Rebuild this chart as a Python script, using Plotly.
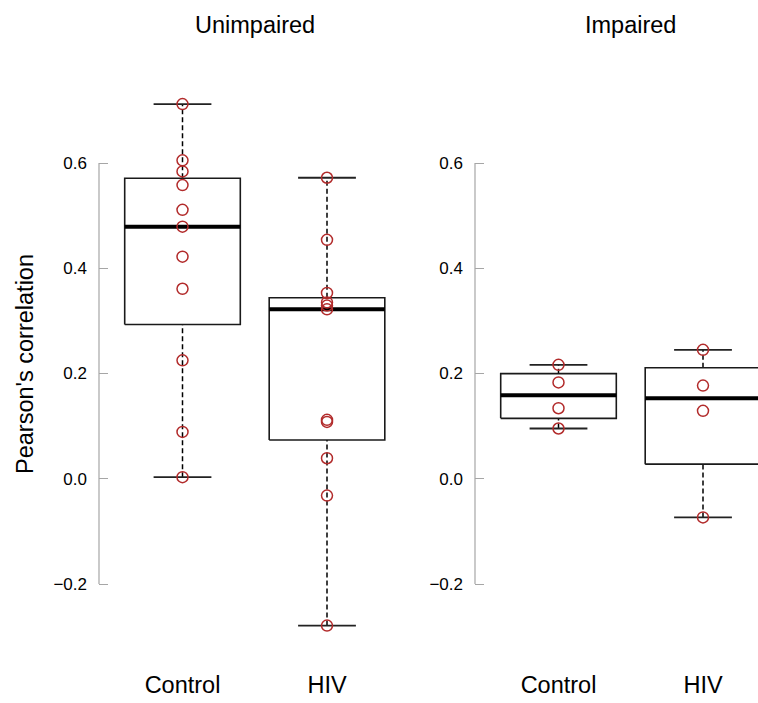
import math
import numpy as np
import plotly.graph_objects as go
from plotly.subplots import make_subplots

# ---- data ----
panel_titles = ["Unimpaired", "Impaired"]
group_labels = ["Control", "HIV"]
unimpaired_control = [0.712, 0.605, 0.584, 0.558, 0.511, 0.479, 0.422, 0.361, 0.225, 0.089, 0.003]
unimpaired_hiv = [0.572, 0.454, 0.353, 0.335, 0.329, 0.322, 0.112, 0.108, 0.039, -0.032, -0.279]
impaired_control = [0.2165, 0.183, 0.134, 0.0955]
impaired_hiv = [0.245, 0.177, 0.129, -0.0735]
y_ticks = [-0.2, 0.0, 0.2, 0.4, 0.6]
y_title = "Pearson's correlation"

W, H = 758, 703
FONT = "Liberation Sans, Arial, Helvetica, sans-serif"
PT_COLOR = "#b22b2b"
AX_COLOR = "#a6a6a6"


def fivenum(vals):
    x = sorted(vals)
    n = len(x)
    n4 = math.floor((n + 3) / 2) / 2
    d = [1, n4, (n + 1) / 2, n + 1 - n4, n]
    return [0.5 * (x[math.floor(k) - 1] + x[math.ceil(k) - 1]) for k in d]


fig = make_subplots(rows=1, cols=2)

panels = [
    (1, [unimpaired_control, unimpaired_hiv]),
    (2, [impaired_control, impaired_hiv]),
]

for col, groups in panels:
    for i, vals in enumerate(groups):
        p = i + 1
        mn, q1, med, q3, mx = fivenum(vals)
        iqr = q3 - q1
        arr = np.array(vals)
        lo = arr[arr >= q1 - 1.5 * iqr].min()
        hi = arr[arr <= q3 + 1.5 * iqr].max()
        hw, cw = 0.4, 0.2
        line_kw = dict(mode="lines", hoverinfo="skip", showlegend=False)
        # whiskers (dashed)
        fig.add_trace(go.Scatter(x=[p, p], y=[q3, hi], line=dict(color="black", width=1.5, dash="5px,3px"), **line_kw), row=1, col=col)
        fig.add_trace(go.Scatter(x=[p, p], y=[lo, q1], line=dict(color="black", width=1.5, dash="5px,3px"), **line_kw), row=1, col=col)
        # caps
        fig.add_trace(go.Scatter(x=[p - cw, p + cw], y=[hi, hi], line=dict(color="#222222", width=1.8), **line_kw), row=1, col=col)
        fig.add_trace(go.Scatter(x=[p - cw, p + cw], y=[lo, lo], line=dict(color="#222222", width=1.8), **line_kw), row=1, col=col)
        # box
        fig.add_trace(go.Scatter(x=[p - hw, p + hw, p + hw, p - hw, p - hw], y=[q1, q1, q3, q3, q1],
                                 fill="toself", fillcolor="white",
                                 line=dict(color="#1a1a1a", width=1.6), **line_kw), row=1, col=col)
        # median
        fig.add_trace(go.Scatter(x=[p - hw, p + hw], y=[med, med], line=dict(color="black", width=4), **line_kw), row=1, col=col)
        # points
        fig.add_trace(go.Scatter(x=[p] * len(vals), y=vals, mode="markers", hoverinfo="skip", showlegend=False,
                                 marker=dict(symbol="circle-open", size=11, color=PT_COLOR, line=dict(width=1.5, color=PT_COLOR))),
                      row=1, col=col)

# ---- layout geometry ----
px_per_x = 144.5
px_per_y = 526.25
y_top_px, y_bot_px = 90, 650
y0_px, ym02_px = 163, 584
yr = [-0.2 - (y_bot_px - ym02_px) / px_per_y, 0.6 + (y0_px - y_top_px) / px_per_y]
ydom = [1 - y_bot_px / H, 1 - y_top_px / H]

left_dom_px = (99, 420)
right_dom_px = (475, 758)
c1_left, c1_right = 182.5, 558.5

xr1 = [1 - (c1_left - left_dom_px[0]) / px_per_x, 1 + (left_dom_px[1] - c1_left) / px_per_x]
xr2 = [1 - (c1_right - right_dom_px[0]) / px_per_x, 1 + (right_dom_px[1] - c1_right) / px_per_x]

xaxis_common = dict(showgrid=False, zeroline=False, showline=False, ticks="",
                    tickvals=[1, 2], ticktext=group_labels,
                    tickfont=dict(family=FONT, size=23.5, color="black"),
                    ticklabelstandoff=18, fixedrange=True)
yaxis_common = dict(showgrid=False, zeroline=False, showline=False,
                    range=yr, domain=ydom, tickvals=y_ticks,
                    ticktext=["\u22120.2", "0.0", "0.2", "0.4", "0.6"],
                    ticks="inside", ticklen=9, tickwidth=1, tickcolor=AX_COLOR,
                    tickfont=dict(family=FONT, size=17, color="black"),
                    ticklabelstandoff=11, fixedrange=True)

fig.update_xaxes(range=xr1, domain=[left_dom_px[0] / W, left_dom_px[1] / W], **xaxis_common, row=1, col=1)
fig.update_xaxes(range=xr2, domain=[right_dom_px[0] / W, right_dom_px[1] / W], **xaxis_common, row=1, col=2)
fig.update_yaxes(**yaxis_common, row=1, col=1)
fig.update_yaxes(**yaxis_common, row=1, col=2)

# y axis lines spanning only the tick range
for xref, yref in [("x domain", "y"), ("x2 domain", "y2")]:
    fig.add_shape(type="line", xref=xref, yref=yref, x0=0, x1=0, y0=min(y_ticks), y1=max(y_ticks),
                  line=dict(color=AX_COLOR, width=1.2), layer="above")

# panel titles
for xref, t in zip(["x", "x2"], panel_titles):
    fig.add_annotation(text=t, xref=xref, x=1.5, yref="paper", y=1 - 25 / H, yanchor="middle",
                       showarrow=False, font=dict(family=FONT, size=23.5, color="black"))

# y axis title
fig.add_annotation(text=y_title, xref="paper", x=25 / W, yref="paper", y=1 - 364 / H,
                   xanchor="center", yanchor="middle", textangle=-90, showarrow=False,
                   font=dict(family=FONT, size=23.5, color="black"))

fig.update_layout(width=W, height=H, margin=dict(l=0, r=0, t=0, b=0),
                  plot_bgcolor="white", paper_bgcolor="white", showlegend=False)

fig.write_html("out.html", config={"displayModeBar": False},
               post_script="document.body.style.margin='0';document.body.style.overflow='hidden';")
